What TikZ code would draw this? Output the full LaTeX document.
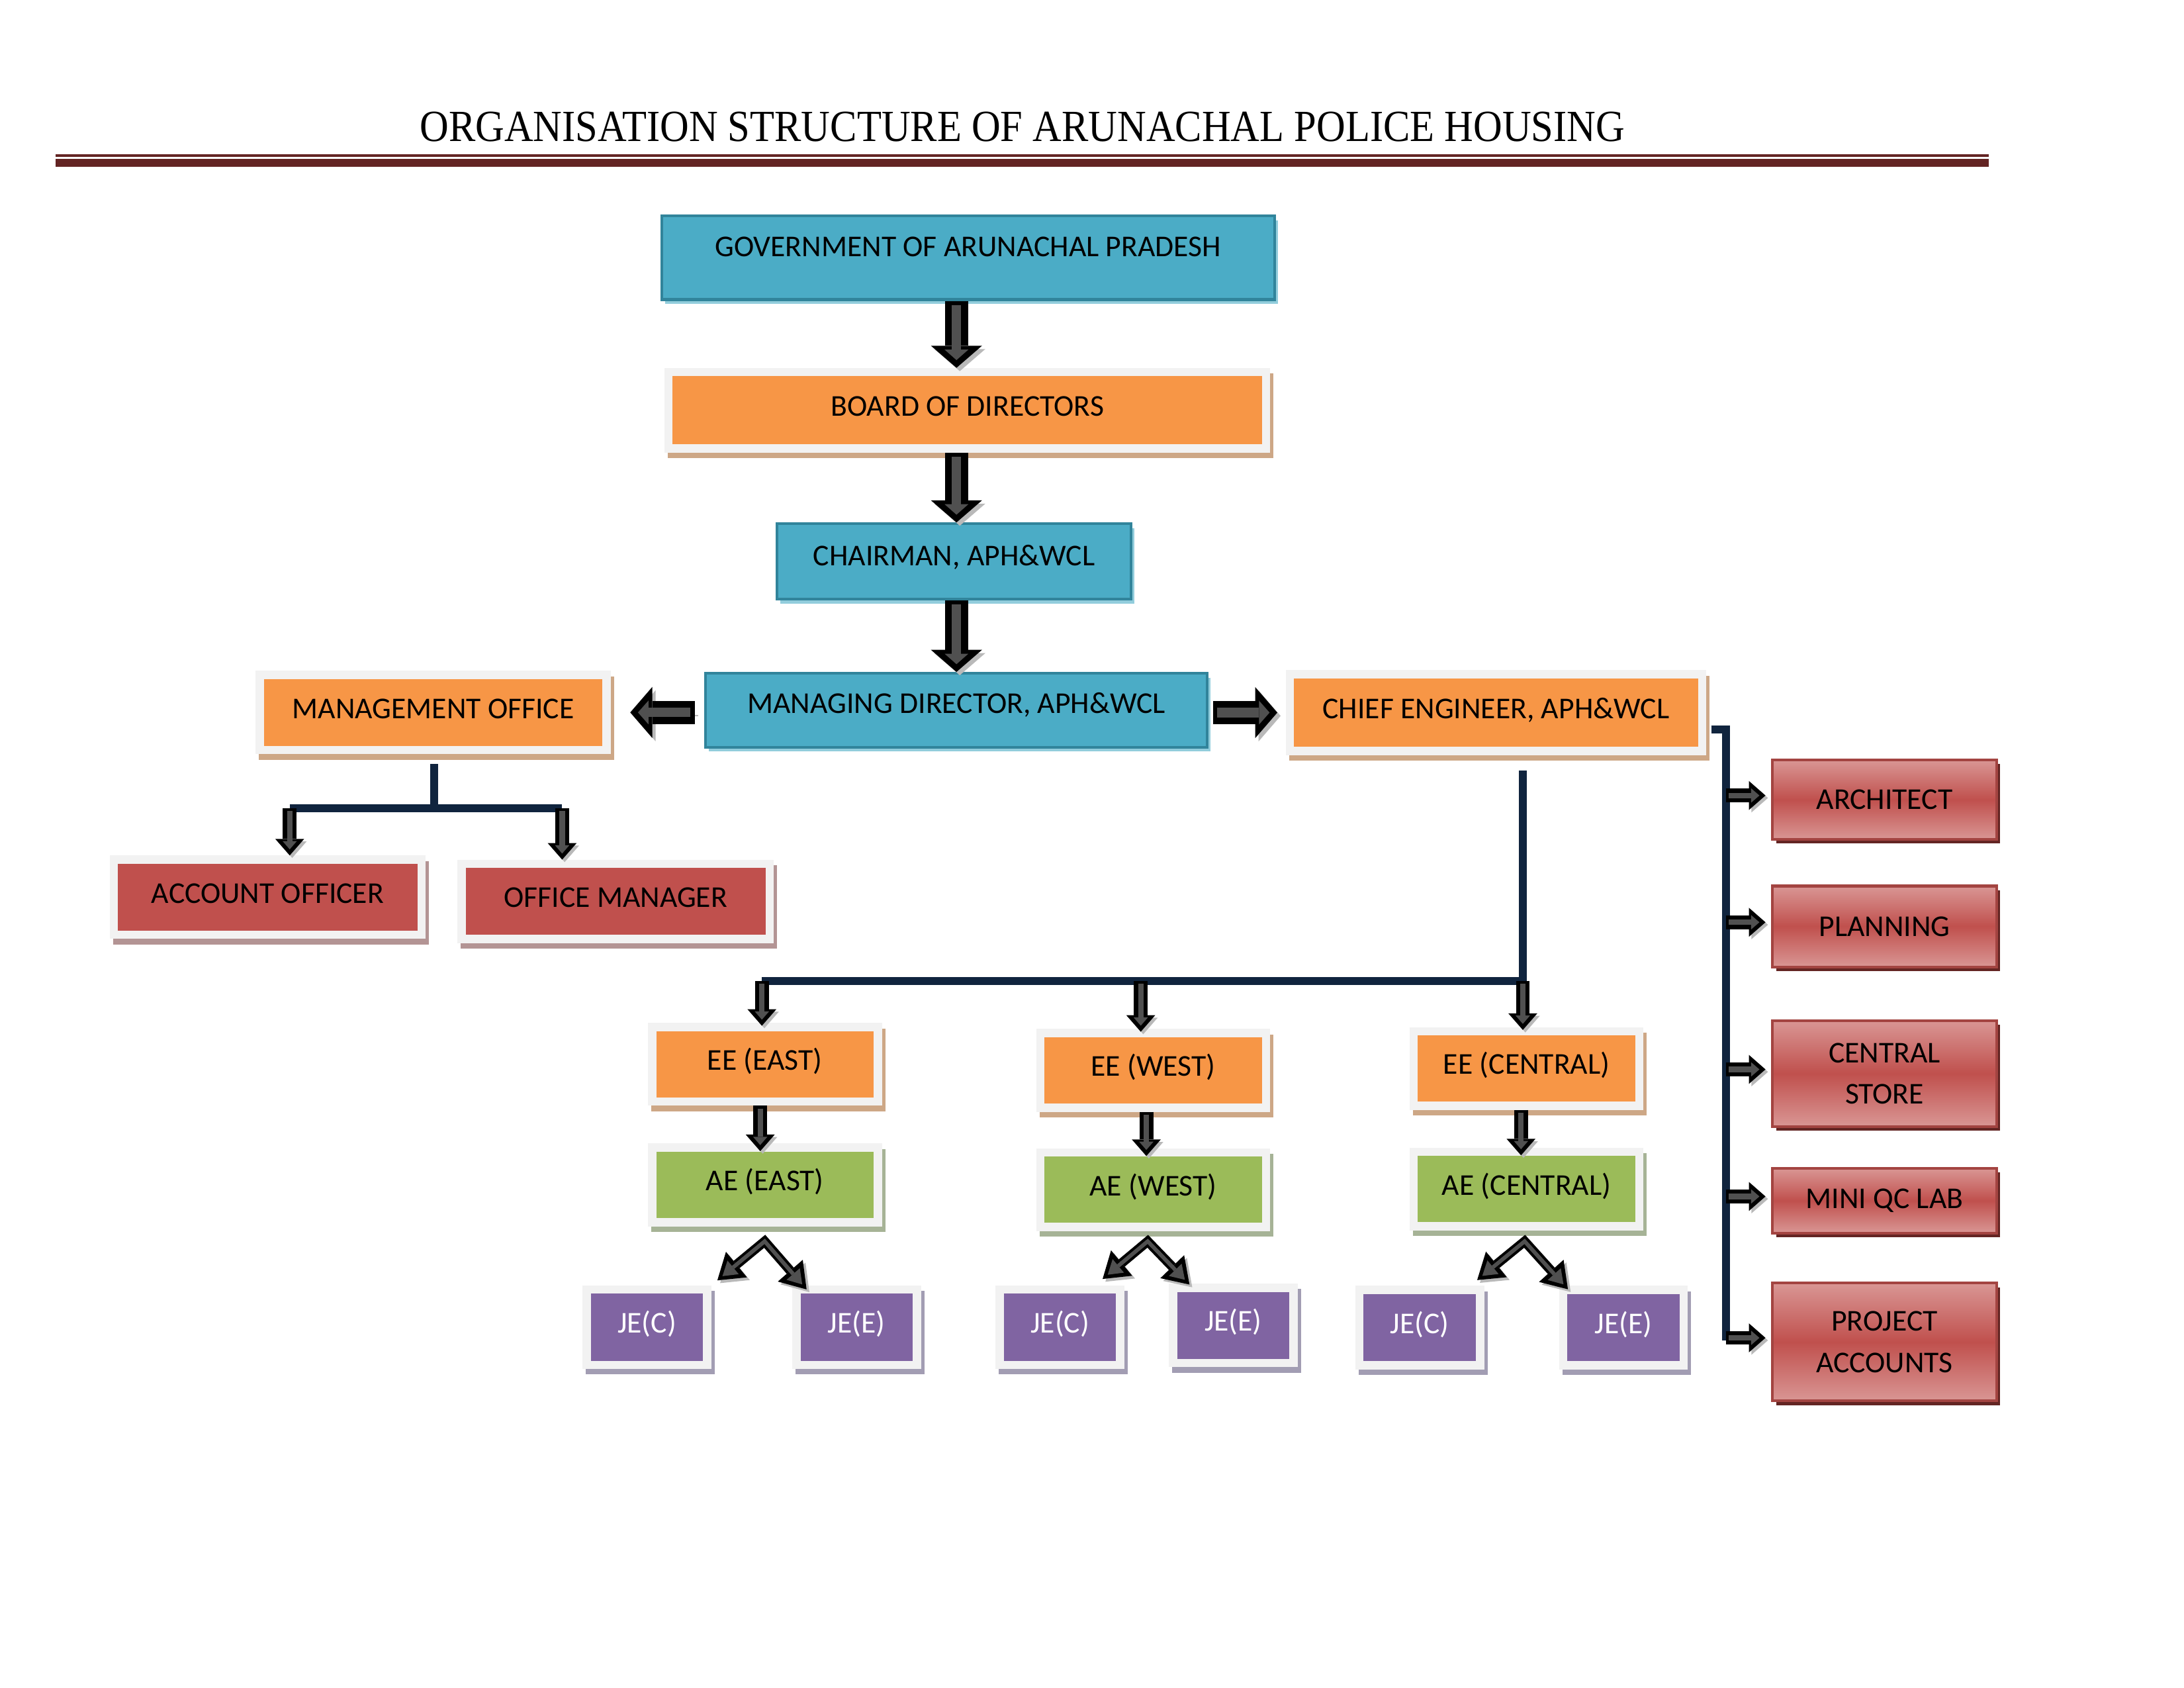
\documentclass[tikz,border=0pt]{standalone}
\usepackage{fontspec}
\setmainfont{Carlito}
\newfontfamily\titlefont[FakeStretch=0.9]{Liberation Serif}
\usepackage{tikz}
\usetikzlibrary{arrows.meta, shadows, calc, positioning}
\usepackage{xcolor}

\definecolor{aphblue}{HTML}{4BACC6}
\definecolor{aphblueD}{HTML}{31849B}
\definecolor{aphblueL}{HTML}{92CDDC}
\definecolor{aphorange}{HTML}{F79646}
\definecolor{tanshadow}{HTML}{CDA786}
\definecolor{framegray}{HTML}{F2F2F2}
\definecolor{aphred}{HTML}{C0504D}
\definecolor{redshadow}{HTML}{B39494}
\definecolor{aphgreen}{HTML}{9BBB59}
\definecolor{greenshadow}{HTML}{A6B396}
\definecolor{aphpurple}{HTML}{8064A2}
\definecolor{purpleshadow}{HTML}{A29DB3}
\definecolor{deptlight}{HTML}{D99694}
\definecolor{deptshadow}{HTML}{632523}
\definecolor{navy}{HTML}{10243E}
\definecolor{rulebrown}{HTML}{632423}
\definecolor{arrowgray}{HTML}{505050}

\tikzset{
  box/.style={rectangle, inner sep=0pt, text height=7.2bp, text depth=3bp,
    font=\fontsize{11}{13}\selectfont},
  boxsize/.style 2 args={minimum width=#1*0.5051bp, minimum height=#2*0.5051bp},
  bluebox/.style={box, fill=aphblue, draw=aphblueD, line width=1bp,
    drop shadow={shadow xshift=1.2bp, shadow yshift=-1.6bp, fill=aphblueL, opacity=1}},
  framed/.style 2 args={box, fill=#1, draw=framegray, line width=3bp,
    drop shadow={shadow xshift=1.2bp, shadow yshift=-2bp, fill=#2, draw=#2, opacity=1}},
  orangebox/.style={framed={aphorange}{tanshadow}},
  redbox/.style={framed={aphred}{redshadow}},
  greenbox/.style={framed={aphgreen}{greenshadow}},
  purplebox/.style={framed={aphpurple}{purpleshadow}, text=white},
  deptbox/.style={rectangle, inner sep=0pt, align=center, font=\fontsize{11}{15}\selectfont,
    top color=deptlight, bottom color=deptlight, middle color=aphred,
    draw=aphred!85!black, line width=1bp,
    drop shadow={shadow xshift=1.3bp, shadow yshift=-1.5bp, fill=deptshadow, opacity=1}},
  navyline/.style={draw=navy, line width=2.9bp},
  bigarrow/.style={draw=black, line width=8.5bp,
    -{Triangle[length=8bp, width=18.5bp, line width=0pt]},
    preaction={draw=gray!55, transform canvas={shift={(1.2bp,-1.2bp)}}},
    postaction={draw=arrowgray, line width=3.4bp,
      -{Triangle[length=3.8bp, width=8.6bp, line width=0pt]}, shorten <=1.5bp, shorten >=2.8bp}},
  smallarrow/.style={draw=black, line width=5bp,
    -{Triangle[length=6bp, width=10.5bp, line width=0pt]},
    preaction={draw=gray!55, transform canvas={shift={(0.9bp,-0.9bp)}}},
    postaction={draw=arrowgray, line width=2bp,
      -{Triangle[length=3bp, width=5.2bp, line width=0pt]}, shorten <=1bp, shorten >=2.2bp}},
  forkarrow/.style={draw=black, line width=3.4bp, line join=miter,
    {Triangle[length=9bp, width=12bp, line width=0pt]}-{Triangle[length=9bp, width=12bp, line width=0pt]},
    preaction={draw=gray!55, transform canvas={shift={(1bp,-1bp)}}},
    postaction={draw=arrowgray, line width=1.4bp,
      {Triangle[length=5bp, width=6.4bp, line width=0pt]}-{Triangle[length=5bp, width=6.4bp, line width=0pt]},
      shorten <=2.4bp, shorten >=2.4bp}},
  titletext/.style={inner sep=0pt, font=\titlefont\fontsize{16.2}{18}\selectfont}
}

\begin{document}
\begin{tikzpicture}[x=0.5051bp, y=-0.5051bp]
  \fill[white, use as bounding box] (0,0) rectangle (1568,1211.6);

  % title and rule
  \node[titletext] (title) at (734,91) {ORGANISATION STRUCTURE OF ARUNACHAL POLICE HOUSING};
  \fill[rulebrown] (40,110.9) rectangle (1428,112.5);
  \fill[rulebrown] (40,114) rectangle (1428,119.6);

  % main line
  \node[bluebox, boxsize={440}{60}, text depth=8bp] (gov) at (695,185) {GOVERNMENT OF ARUNACHAL PRADESH};
  \node[orangebox, boxsize={429}{55}] (board) at (694.5,294.5) {BOARD OF DIRECTORS};
  \node[bluebox, boxsize={254}{54}, text depth=4bp] (chair) at (685,403) {CHAIRMAN, APH\&WCL};
  \node[bluebox, boxsize={360}{53}, text depth=4.8bp] (md) at (686.7,509.8) {MANAGING DIRECTOR, APH\&WCL};
  \node[orangebox, boxsize={249}{54}] (mgmt) at (311,511.4) {MANAGEMENT OFFICE};
  \node[orangebox, boxsize={296}{55}] (chief) at (1074,511.5) {CHIEF ENGINEER, APH\&WCL};

  % management office
  \node[redbox, boxsize={221}{54}] (acct) at (192.2,644) {ACCOUNT OFFICER};
  \node[redbox, boxsize={221}{54}] (offmgr) at (442,647) {OFFICE MANAGER};

  % divisions
  \node[orangebox, boxsize={162}{53.5}] (eeE) at (549.2,764) {EE (EAST)};
  \node[orangebox, boxsize={162}{53.5}] (eeW) at (828,768.3) {EE (WEST)};
  \node[orangebox, boxsize={162}{53.5}] (eeC) at (1096,767) {EE (CENTRAL)};
  \node[greenbox, boxsize={162}{53.5}] (aeE) at (549.2,850.5) {AE (EAST)};
  \node[greenbox, boxsize={162}{53.5}] (aeW) at (828,854) {AE (WEST)};
  \node[greenbox, boxsize={162}{53.5}] (aeC) at (1096,853.5) {AE (CENTRAL)};
  \node[purplebox, boxsize={86.5}{54}] (jecE) at (464.5,952.7) {JE(C)};
  \node[purplebox, boxsize={86.5}{54}] (jeeE) at (615,952.7) {JE(E)};
  \node[purplebox, boxsize={86.5}{54}] (jecW) at (761,952.7) {JE(C)};
  \node[purplebox, boxsize={86.5}{54}] (jeeW) at (885.4,951.3) {JE(E)};
  \node[purplebox, boxsize={86.5}{54}] (jecC) at (1019.3,952.9) {JE(C)};
  \node[purplebox, boxsize={86.5}{54}] (jeeC) at (1165.6,952.9) {JE(E)};

  % chief engineer's sections
  \node[deptbox, boxsize={161}{57}] (arch) at (1353,574) {ARCHITECT};
  \node[deptbox, boxsize={161}{58}] (plan) at (1353,665) {PLANNING};
  \node[deptbox, boxsize={161}{76}] (store) at (1353,770.6) {CENTRAL\\STORE};
  \node[deptbox, boxsize={161}{46.5}] (qc) at (1353,861.8) {MINI QC LAB};
  \node[deptbox, boxsize={161}{84.6}] (proj) at (1353,963.3) {PROJECT\\ACCOUNTS};

  % connectors
  \draw[bigarrow] (gov.south -| md) -- (board.north -| md);
  \draw[bigarrow] (board.south -| md) -- (chair.north -| md);
  \draw[bigarrow] (chair.south -| md) -- (md.north);
  \draw[bigarrow] ($(md.west |- mgmt.east)+(-7,0)$) -- ($(mgmt.east)+(14,0)$);
  \draw[bigarrow] ($(md.east |- chief.west)+(3.3,0)$) -- ($(chief.west)+(-6,0)$);

  \coordinate (mgmtJoin) at (311.8,580);
  \coordinate (acctDrop) at (208,580);
  \coordinate (offDrop) at (403.6,580);
  \draw[navyline] ($(mgmt.south)+(0.8,7)$) -- (mgmtJoin);
  \draw[navyline] (acctDrop) -- (offDrop);
  \draw[smallarrow] (acctDrop) -- (acctDrop |- acct.north);
  \draw[smallarrow] (offDrop) -- (offDrop |- offmgr.north);

  \coordinate (chiefDrop) at (1093.3,704);
  \coordinate (eeDropE) at (547,704);
  \coordinate (eeDropW) at (819,704);
  \draw[navyline] (eeDropE) -- (chiefDrop) -- ($(chiefDrop |- chief.south)+(0,11)$);
  \draw[smallarrow] (eeDropE) -- ($(eeDropE |- eeE.north)+(0,2)$);
  \draw[smallarrow] (eeDropW) -- ($(eeDropW |- eeW.north)+(0,2)$);
  \draw[smallarrow] (chiefDrop) -- ($(chiefDrop |- eeC.north)+(0,2)$);

  \draw[smallarrow] ($(eeE.south)+(-3.4,0)$) -- ($(aeE.north)+(-3.4,5.5)$);
  \draw[smallarrow] ($(eeW.south)+(-5,0)$) -- ($(aeW.north)+(-5,5.5)$);
  \draw[smallarrow] ($(eeC.south)+(-4,0)$) -- ($(aeC.north)+(-4,5.5)$);

  \coordinate (forkE) at (549,891);
  \coordinate (forkW) at (824,891);
  \coordinate (forkC) at (1094.6,891);
  \draw[forkarrow] ($(jecE.north east)+(4.3,-3.7)$) -- (forkE) -- ($(jeeE.north west)+(10.3,2.8)$);
  \draw[forkarrow] ($(jecW.north east)+(-15.6,-4.7)$) -- (forkW) -- ($(jeeW.north west)+(14.8,0.7)$);
  \draw[forkarrow] ($(jecC.north east)+(-5,-4.1)$) -- (forkC) -- ($(jeeC.north west)+(6.3,2.5)$);

  \coordinate (hook) at (1228.6,523.5);
  \coordinate (barTop) at (1239,523.5);
  \coordinate (barBot) at (1239,962);
  \draw[navyline] (hook) -- (barTop) -- (barBot);
  \foreach \dept in {arch,plan,store,qc,proj}
    \draw[smallarrow] ($(barTop |- \dept.west)+(0,-3)$) -- ($(\dept.west)+(-4,-3)$);
\end{tikzpicture}
\end{document}
